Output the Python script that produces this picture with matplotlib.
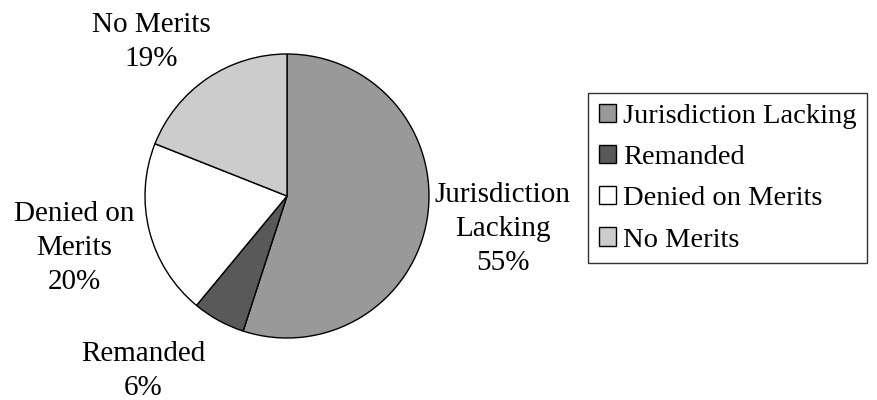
import matplotlib.pyplot as plt

plt.rcParams["font.family"] = ["Liberation Serif", "DejaVu Serif"]

# === Data ===
categories = ["Jurisdiction Lacking", "Remanded", "Denied on Merits", "No Merits"]
shares = [55, 6, 20, 19]
slice_labels = ["Jurisdiction\nLacking\n55%", "Remanded\n6%", "Denied on\nMerits\n20%", "No Merits\n19%"]
colors = ["#999999", "#595959", "#ffffff", "#cccccc"]
label_pos = [(1.52, -0.232), (-1.01, -1.232), (-1.5, -0.366), (-0.958, 1.085)]

fig = plt.figure(figsize=(8.78, 4.0), dpi=100)
R = 142
ax = fig.add_axes([(287 - R) / 878, (400 - 196 - R) / 400, 2 * R / 878, 2 * R / 400])

wedges, _ = ax.pie(
    shares,
    colors=colors,
    startangle=90,
    counterclock=False,
    radius=1,
    wedgeprops=dict(edgecolor="black", linewidth=1),
)
ax.set_xlim(-1, 1)
ax.set_ylim(-1, 1)
ax.set_aspect("equal")

for txt, (x, y) in zip(slice_labels, label_pos):
    ax.text(x, y, txt, ha="center", va="center", fontsize=21, linespacing=1.4, clip_on=False)

leg = fig.legend(
    wedges,
    categories,
    loc="upper left",
    bbox_to_anchor=(588 / 878, 1 - 93 / 400),
    fontsize=20.5,
    frameon=True,
    fancybox=False,
    handlelength=0.6,
    handleheight=0.6,
    handletextpad=0.25,
    labelspacing=0.57,
    borderpad=0.37,
    borderaxespad=0,
)
leg.get_frame().set_edgecolor("black")
leg.get_frame().set_linewidth(1)

fig.savefig("out.png", dpi=100)
